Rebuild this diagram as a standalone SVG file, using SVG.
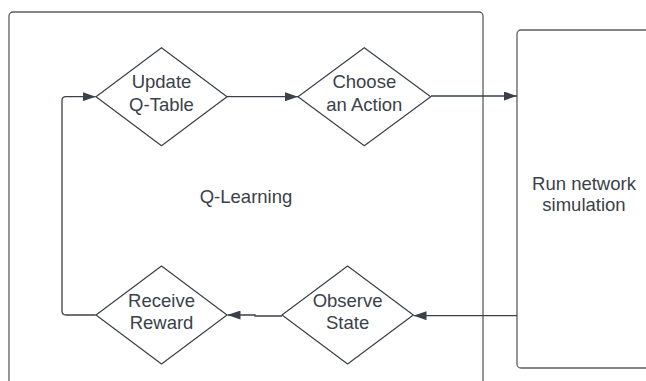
<svg xmlns="http://www.w3.org/2000/svg" width="646" height="381" viewBox="0 0 646 381">
<defs>
<style>
.box{fill:#ffffff;stroke:#5e5e5e;stroke-width:1.3}
.dia{fill:#ffffff;stroke:#3a414a;stroke-width:1.2;stroke-linejoin:round}
.con{fill:none;stroke:#3a414a;stroke-width:1.3}
text{font-family:"Liberation Sans",Arial,sans-serif;font-size:18.5px;fill:#3a414a;text-anchor:middle}
</style>
<marker id="arr" viewBox="0 0 13 9" refX="13" refY="4.5" markerWidth="13" markerHeight="9" markerUnits="userSpaceOnUse" orient="auto">
<path d="M0,0 L13,4.5 L0,9 z" fill="#3a414a"/>
</marker>
</defs>
<rect width="646" height="381" fill="#ffffff"/>
<g id="qlearning">
<rect class="box" x="9" y="12" width="474" height="400" rx="4"/>
<text x="246" y="203">Q-Learning</text>
</g>
<g id="simulation">
<rect class="box" x="517" y="30" width="200" height="338" rx="4"/>
<text x="584" y="190">Run network</text>
<text x="584" y="211">simulation</text>
</g>
<g id="connectors">
<path class="con" d="M227,96.7 H298" marker-end="url(#arr)"/>
<path class="con" d="M431,96 H517" marker-end="url(#arr)"/>
<path class="con" d="M517,315.7 H413.5" marker-end="url(#arr)"/>
<path class="con" d="M282,316 H255 V315 H227.5" marker-end="url(#arr)"/>
<path class="con" d="M95.7,315 H66 Q62,315 62,311 V100.7 Q62,96.7 66,96.7 H95.7" marker-end="url(#arr)"/>
</g>
<g id="update">
<path class="dia" d="M161.5,47.7 L227,96.7 L161.5,145.7 L96,96.7 Z"/>
<text x="161.5" y="88.4">Update</text>
<text x="161.5" y="111">Q-Table</text>
</g>
<g id="choose">
<path class="dia" d="M364.3,47.7 L430.7,96.7 L364.3,145.7 L298,96.7 Z"/>
<text x="364.3" y="88.4">Choose</text>
<text x="364.3" y="111">an Action</text>
</g>
<g id="observe">
<path class="dia" d="M347.6,266 L413.3,315 L347.6,364 L282,315 Z"/>
<text x="347.6" y="306.7">Observe</text>
<text x="347.6" y="329.3">State</text>
</g>
<g id="receive">
<path class="dia" d="M161.5,266 L227,315 L161.5,364 L96,315 Z"/>
<text x="161.5" y="306.7">Receive</text>
<text x="161.5" y="329.3">Reward</text>
</g>
</svg>
